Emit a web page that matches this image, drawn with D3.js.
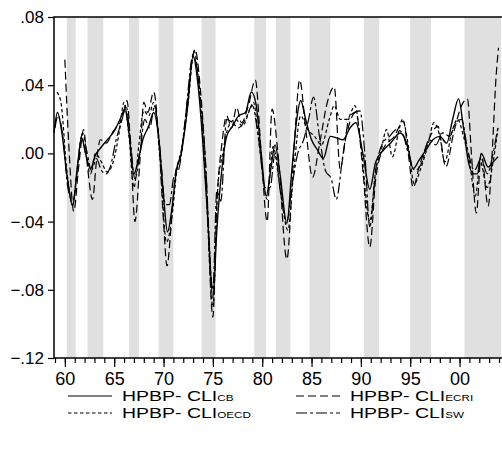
<!DOCTYPE html>
<html>
<head>
<meta charset="utf-8">
<script src="https://cdn.jsdelivr.net/npm/d3@7"></script>
<style>
  body { margin: 0; background: #fff; }
  svg { display: block; font-family: "Liberation Sans", Arial, sans-serif; }
</style>
</head>
<body>
<svg id="chart" width="502" height="458"></svg>
<script>
// growth-cycle downturn phases (shaded)
const shadedPeriods = [
  [1960.2, 1961.1], [1962.3, 1963.9], [1966.5, 1967.5], [1969.5, 1971.0],
  [1973.85, 1975.27], [1979.2, 1980.4], [1981.4, 1982.85], [1984.8, 1986.9],
  [1990.3, 1991.85], [1995.0, 1997.1], [2000.5, 2004.2]
];

const yTicks = [0.08, 0.04, 0.0, -0.04, -0.08, -0.12];
const xMajorYears = [1960, 1965, 1970, 1975, 1980, 1985, 1990, 1995, 2000];

// [year, value]
const cliCB = [
  [1958.9, 0.012], [1959.25, 0.024], [1959.7, 0.012], [1960.2, -0.012], [1960.8, -0.031],
  [1961.3, -0.006], [1961.7, 0.009], [1962.1, 0.0], [1962.6, -0.009], [1963.1, -0.001],
  [1963.6, 0.003], [1964.3, 0.008], [1965.0, 0.013], [1965.6, 0.02], [1966.1, 0.026],
  [1966.5, 0.012], [1967.0, -0.012], [1967.4, -0.005], [1967.9, 0.008], [1968.5, 0.016],
  [1969.0, 0.024], [1969.5, 0.01], [1970.0, -0.025], [1970.4, -0.046], [1970.9, -0.03],
  [1971.3, -0.01], [1971.8, 0.0], [1972.4, 0.025], [1973.0, 0.057], [1973.5, 0.04],
  [1974.0, 0.005], [1974.5, -0.04], [1975.0, -0.085], [1975.4, -0.045], [1975.9, -0.01],
  [1976.4, 0.01], [1977.0, 0.016], [1977.6, 0.022], [1978.3, 0.024], [1978.9, 0.036],
  [1979.4, 0.028], [1979.9, 0.0], [1980.4, -0.025], [1980.9, -0.008], [1981.3, 0.005],
  [1981.8, -0.012], [1982.5, -0.041], [1983.0, -0.01], [1983.5, 0.02], [1983.9, 0.031],
  [1984.4, 0.02], [1985.0, 0.008], [1985.6, 0.002], [1986.2, -0.003], [1986.9, 0.010],
  [1987.6, 0.009], [1988.2, 0.008], [1988.9, 0.015], [1989.5, 0.018], [1990.2, 0.0],
  [1990.9, -0.021], [1991.5, -0.005], [1992.3, 0.002], [1993.0, 0.006], [1994.0, 0.012],
  [1994.7, 0.005], [1995.3, -0.009], [1995.9, -0.004], [1996.6, 0.002], [1997.3, 0.008],
  [1998.0, 0.01], [1998.7, 0.006], [1999.3, 0.02], [1999.9, 0.032], [2000.4, 0.015],
  [2000.9, -0.005], [2001.4, -0.012], [2001.8, -0.012], [2002.2, 0.0], [2002.9, -0.008],
  [2003.4, -0.005], [2003.9, -0.002]
];

const cliECRI = [
  [1960.0, 0.055], [1960.4, 0.005], [1960.9, -0.034], [1961.4, -0.008], [1961.9, 0.014],
  [1962.3, -0.008], [1962.8, -0.027], [1963.2, -0.005], [1963.6, 0.008], [1964.2, 0.006],
  [1964.8, 0.012], [1965.3, 0.016], [1965.8, 0.02], [1966.3, 0.031], [1966.7, 0.0],
  [1967.1, -0.040], [1967.6, -0.005], [1968.0, 0.030], [1968.4, 0.024], [1969.0, 0.036],
  [1969.5, 0.01], [1970.0, -0.04], [1970.35, -0.066], [1970.8, -0.04], [1971.2, -0.012],
  [1971.8, 0.0], [1972.4, 0.03], [1973.2, 0.061], [1973.7, 0.04], [1974.3, -0.01],
  [1975.0, -0.096], [1975.4, -0.03], [1975.9, 0.005], [1976.4, 0.022], [1976.9, 0.015],
  [1977.4, 0.027], [1977.9, 0.018], [1978.6, 0.028], [1979.3, 0.043], [1979.9, 0.0],
  [1980.5, -0.040], [1981.0, 0.026], [1981.6, 0.0], [1982.5, -0.062], [1983.2, 0.0],
  [1983.8, 0.043], [1984.4, 0.015], [1985.1, -0.014], [1985.8, 0.005], [1986.6, 0.03],
  [1987.3, 0.039], [1987.9, -0.009], [1988.5, 0.01], [1989.5, 0.024], [1990.2, -0.01],
  [1990.9, -0.055], [1991.5, -0.015], [1992.3, 0.003], [1993.4, 0.01], [1994.3, 0.019],
  [1994.8, 0.0], [1995.3, -0.02], [1995.9, -0.008], [1996.6, 0.004], [1997.2, 0.012],
  [1997.8, 0.016], [1998.6, -0.008], [1999.4, 0.012], [2000.2, 0.028], [2000.8, 0.032],
  [2001.2, 0.0], [2001.7, -0.035], [2002.2, 0.0], [2002.9, -0.031], [2003.3, 0.0],
  [2003.7, 0.045], [2003.95, 0.062]
];

const cliOECD = [
  [1959.2, 0.036], [1959.6, 0.03], [1960.2, -0.01], [1960.8, -0.03], [1961.2, -0.012],
  [1961.7, 0.01], [1962.1, 0.0], [1962.6, -0.012], [1963.1, 0.0], [1963.7, -0.005],
  [1964.3, -0.011], [1964.9, -0.005], [1965.5, 0.012], [1966.0, 0.03], [1966.5, 0.01],
  [1967.0, -0.02], [1967.5, 0.005], [1968.0, 0.025], [1968.5, 0.022], [1969.0, 0.03],
  [1969.6, 0.0], [1970.3, -0.052], [1970.9, -0.035], [1971.3, -0.012], [1971.9, 0.005],
  [1972.5, 0.03], [1973.1, 0.06], [1973.6, 0.04], [1974.3, -0.02], [1975.0, -0.09],
  [1975.5, -0.02], [1976.0, 0.0], [1976.6, 0.016], [1977.3, 0.02], [1978.0, 0.016],
  [1978.7, 0.025], [1979.1, 0.03], [1979.8, 0.0], [1980.5, -0.027], [1981.1, 0.004],
  [1981.8, -0.02], [1982.6, -0.045], [1983.2, -0.01], [1983.9, 0.022], [1984.6, 0.014],
  [1985.3, 0.01], [1986.0, 0.005], [1986.8, 0.02], [1987.3, 0.028], [1987.9, 0.02],
  [1988.6, 0.02], [1989.4, 0.028], [1990.0, 0.005], [1990.9, -0.04], [1991.5, -0.01],
  [1992.0, 0.0], [1992.6, 0.014], [1993.2, -0.002], [1993.8, 0.012], [1994.2, 0.02],
  [1994.8, 0.005], [1995.4, -0.018], [1996.0, -0.01], [1996.8, 0.005], [1997.4, 0.018],
  [1998.0, 0.01], [1998.5, -0.005], [1999.2, 0.012], [1999.8, 0.02], [2000.4, 0.01],
  [2001.0, -0.005], [2001.6, -0.025], [2002.1, -0.005], [2002.8, -0.02], [2003.4, -0.005],
  [2003.9, 0.015]
];

const cliSW = [
  [1959.0, 0.015], [1959.3, 0.022], [1959.8, 0.01], [1960.3, -0.02], [1960.8, -0.028],
  [1961.3, -0.008], [1961.8, 0.012], [1962.2, 0.002], [1962.7, -0.01], [1963.2, -0.003],
  [1963.7, -0.01], [1964.2, -0.012], [1964.6, -0.008], [1965.2, 0.008], [1965.8, 0.02],
  [1966.2, 0.028], [1966.6, 0.01], [1967.1, -0.015], [1967.6, 0.0], [1968.1, 0.02],
  [1968.6, 0.015], [1969.1, 0.028], [1969.6, 0.005], [1970.2, -0.03], [1970.6, -0.03],
  [1971.0, -0.015], [1971.6, -0.008], [1972.2, 0.02], [1973.0, 0.058], [1973.5, 0.045],
  [1974.2, 0.0], [1975.0, -0.08], [1975.4, -0.022], [1975.8, -0.028], [1976.4, 0.02],
  [1977.0, 0.018], [1977.6, 0.015], [1978.3, 0.02], [1979.0, 0.028], [1979.6, 0.01],
  [1980.3, -0.02], [1980.8, -0.02], [1981.3, 0.0], [1981.9, -0.025], [1982.5, -0.04],
  [1983.0, -0.02], [1983.6, 0.0], [1984.2, 0.008], [1984.7, 0.02], [1985.2, 0.033],
  [1985.8, 0.01], [1986.4, -0.01], [1987.0, -0.015], [1987.5, -0.027], [1988.2, 0.0],
  [1988.9, 0.022], [1989.9, 0.025], [1990.4, 0.0], [1990.9, -0.043], [1991.5, -0.01],
  [1992.2, 0.006], [1992.9, 0.01], [1993.6, 0.014], [1994.2, 0.012], [1994.8, 0.0],
  [1995.5, -0.01], [1996.2, -0.005], [1996.9, 0.008], [1997.6, 0.005], [1998.3, 0.012],
  [1999.0, 0.01], [1999.6, 0.018], [2000.2, 0.02], [2000.8, 0.003], [2001.5, -0.01],
  [2002.2, -0.003], [2002.8, -0.012], [2003.4, 0.0], [2003.9, 0.016]
];

const seriesNames = ["CB", "ECRI", "OECD", "SW"];
const seriesDash = {CB: null, ECRI: "8,4", OECD: "3.5,2.5", SW: "11,3,3,3"};
const seriesData = {CB: cliCB, ECRI: cliECRI, OECD: cliOECD, SW: cliSW};

const svg = d3.select("#chart");
const plotLeft = 54, plotRight = 501, plotTop = 17, plotBottom = 358;

const x = d3.scaleLinear().domain([1958.9, 2004.2]).range([plotLeft, plotRight]);
const y = d3.scaleLinear().domain([-0.12, 0.08]).range([plotBottom, plotTop]);

// shaded bands
svg.append("g")
  .selectAll("rect")
  .data(shadedPeriods)
  .enter()
  .append("rect")
  .attr("x", d => x(d[0]))
  .attr("width", d => x(d[1]) - x(d[0]))
  .attr("y", plotTop)
  .attr("height", plotBottom - plotTop)
  .attr("fill", "#e0e0e0");

const line = d3.line()
  .x(d => x(d[0]))
  .y(d => y(d[1]))
  .curve(d3.curveMonotoneX);

svg.append("g")
  .selectAll("path")
  .data(seriesNames)
  .enter()
  .append("path")
  .attr("d", k => line(seriesData[k]))
  .attr("fill", "none")
  .attr("stroke", "#000")
  .attr("stroke-width", k => k == "CB" ? 1.4 : 1.2)
  .attr("stroke-dasharray", k => seriesDash[k]);

// frame (right edge runs off the page like the original)
svg.append("rect")
  .attr("x", plotLeft).attr("y", plotTop)
  .attr("width", plotRight - plotLeft + 4).attr("height", plotBottom - plotTop)
  .attr("fill", "none")
  .attr("stroke", "#000")
  .attr("stroke-width", 1.5);

const fmtY = v => d3.format(".2f")(v).replace("0.", ".");

const yAxis = svg.append("g")
  .attr("transform", `translate(${plotLeft},0)`)
  .call(d3.axisLeft(y).tickValues(yTicks).tickFormat(fmtY).tickSize(6).tickPadding(4));

// yearly minor ticks, longer ones every 5 years
const xAxisMinor = svg.append("g")
  .attr("transform", `translate(0,${plotBottom})`)
  .call(d3.axisBottom(x).tickValues(d3.range(1959, 2005)).tickFormat("").tickSize(5));

const xAxis = svg.append("g")
  .attr("transform", `translate(0,${plotBottom})`)
  .call(d3.axisBottom(x).tickValues(xMajorYears)
    .tickFormat(d => String(d % 100).padStart(2, "0")).tickSize(9).tickPadding(5));

[yAxis, xAxis, xAxisMinor].forEach(a => {
  a.select(".domain").remove();
  a.selectAll("line").attr("stroke", "#000").attr("stroke-width", 1.2);
  a.selectAll("text").attr("font-size", 17).attr("fill", "#000")
    .attr("font-family", "Liberation Sans, Arial, sans-serif");
});
xAxis.selectAll("text").attr("font-size", 18);

// legend
const legendItems = [
  {key: "CB", col: 0, row: 0},
  {key: "ECRI", col: 1, row: 0},
  {key: "OECD", col: 0, row: 1},
  {key: "SW", col: 1, row: 1}
];
const legendX = [68, 296], legendY = [396, 413];

const lg = svg.append("g")
  .selectAll("g")
  .data(legendItems)
  .enter()
  .append("g")
  .attr("transform", d => `translate(${legendX[d.col]},${legendY[d.row]})`);

lg.append("line")
  .attr("x1", 0).attr("x2", 44)
  .attr("stroke", "#000")
  .attr("stroke-width", 1.2)
  .attr("stroke-dasharray", d => seriesDash[d.key]);

// the original's lettering is wider than Arial, so stretch it horizontally
const lt = lg.append("text")
  .attr("transform", "translate(54,5) scale(1.3,1)")
  .attr("font-size", 15)
  .attr("fill", "#000");
lt.append("tspan").text("HPBP- CLI");
lt.append("tspan").attr("font-size", 9).text(d => d.key);
</script>
</body>
</html>
